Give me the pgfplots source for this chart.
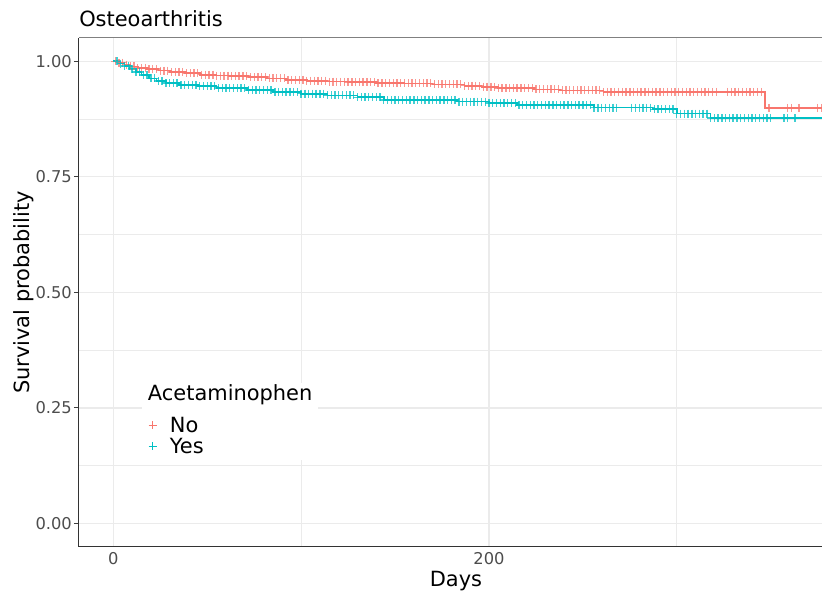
\documentclass[border=0pt]{standalone}
\usepackage{fontspec}
\setmainfont{DejaVu Sans}
\usepackage{pgfplots}
\usepackage{pgfplotstable}
\pgfplotsset{compat=1.18}
\definecolor{cno}{HTML}{F8766D}
\definecolor{cyes}{HTML}{00BFC4}
\definecolor{tickc}{HTML}{4D4D4D}
\definecolor{gridc}{HTML}{EBEBEB}

% Kaplan-Meier step curves (day, survival)
\pgfplotstableread{
t s
0 1.000
3 0.997
6 0.993
9 0.989
13 0.986
18 0.983
24 0.980
30 0.977
38 0.974
46 0.971
55 0.969
62 0.968
72 0.966
82 0.963
92 0.960
103 0.958
114 0.956
125 0.955
140 0.953
155 0.952
170 0.950
187 0.947
196 0.945
205 0.942
224 0.939
238 0.937
261 0.934
347 0.899
377.3 0.899
}\curveNo

\pgfplotstableread{
t s
0 1.000
3 0.995
6 0.990
9 0.984
12 0.977
15 0.970
19 0.963
23 0.957
28 0.953
35 0.949
45 0.946
55 0.942
71 0.938
85 0.934
100 0.930
114 0.926
130 0.922
144 0.916
183 0.913
200 0.910
215 0.905
256 0.900
287 0.896
300 0.887
318 0.877
377.3 0.877
}\curveYes

\begin{document}
\begin{tikzpicture}
\useasboundingbox (-59.25pt,-33.75pt) rectangle (557.25pt,410.25pt);
\begin{axis}[
  at={(0,0)}, anchor=south west,
  scale only axis, width=557.25pt, height=381.75pt,
  clip=false,
  xmin=-18.26, xmax=377.3, ymin=-0.0508, ymax=1.0504,
  xtick={0,200}, minor xtick={100,300},
  ytick={0,0.25,0.5,0.75,1},
  yticklabels={0.00,0.25,0.50,0.75,1.00},
  minor ytick={0.125,0.375,0.625,0.875},
  grid=both,
  major grid style={gridc, line width=0.9pt},
  minor grid style={gridc, line width=0.7pt},
  minor tick length=0pt,
  axis line style={draw=none},
  tick align=outside,
  xtick style={draw=none},
  ytick style={tickc!80!black, line width=0.7pt},
  major tick length=3.75pt,
  /pgf/number format/assume math mode=true,
  ticklabel style={font=\fontsize{12.2}{14}\selectfont, text=tickc},
  yticklabel style={anchor=east, inner sep=0pt, xshift=-1.5pt},
  xticklabel style={anchor=north, inner sep=0pt, yshift=0.25pt},
  xlabel={Days},
  ylabel={Survival probability},
  label style={font=\fontsize{15.7}{18}\selectfont},
  xlabel style={at={(axis description cs:0.5074,0)}, anchor=base, yshift=-29.5pt, inner sep=0pt},
  ylabel style={at={(axis description cs:0,0.5)}, anchor=base, yshift=36.75pt, inner sep=0pt},
  title={Osteoarthritis},
  title style={at={(axis description cs:0,1)}, anchor=base west, yshift=2.5pt, inner sep=0pt, font=\fontsize{15.7}{18}\selectfont},
  legend cell align=left,
  legend image code/.code={\draw[#1, mark options={line width=0.5pt, opacity=1}] plot coordinates {(3pt,0pt)}; \path (0pt,0pt) (15.75pt,0pt);},
  legend style={at={(axis description cs:0.0933,0.2545)}, anchor=north west,
    draw=none, fill=none, inner sep=0pt, outer sep=0pt, column sep=0pt, row sep=4.3pt,
    font=\fontsize{15.7}{18}\selectfont,
    nodes={inner sep=0pt, text height=11.45pt, text depth=0pt}},
]
\fill[white] (axis description cs:0.0844,0.1709) rectangle (axis description cs:0.3217,0.3222);

\addplot[const plot, cno, line width=1.3pt, forget plot] table[x=t,y=s] {\curveNo};
\addplot[const plot, cyes, line width=1.3pt, forget plot] table[x=t,y=s] {\curveYes};

% censoring marks, No
\addplot[only marks, mark=+, mark size=3pt, cno, mark options={line width=1pt, opacity=0.75}] coordinates {
(1,1.000)(3,0.997)(5,0.997)(7,0.993)(9,0.989)(11,0.989)(13,0.986)(15,0.986)(17,0.986)(19,0.983)(21,0.983)(23,0.983)(25,0.980)(27,0.980)(29,0.980)(31,0.977)(33,0.977)(35,0.977)(37,0.977)(39,0.974)(41,0.974)(43,0.974)(45,0.974)(47,0.971)(49,0.971)(51,0.971)(53,0.971)(55,0.969)(57,0.969)(59,0.969)(61,0.969)(63,0.968)(65,0.968)(67,0.968)(69,0.968)(71,0.968)(73,0.966)(75,0.966)(77,0.966)(79,0.966)(81,0.966)(83,0.963)(85,0.963)(87,0.963)(89,0.963)(91,0.963)(93,0.960)(95,0.960)(97,0.960)(99,0.960)(101,0.960)(103,0.958)(105,0.958)(107,0.958)(109,0.958)(111,0.958)(113,0.958)(115,0.956)(117,0.956)(119,0.956)(121,0.956)(123,0.956)(125,0.955)(127,0.955)(129,0.955)(131,0.955)(133,0.955)(135,0.955)(137,0.955)(139,0.955)(141,0.953)(143,0.953)(145,0.953)(147,0.953)(149,0.953)(151,0.953)(153,0.953)(155,0.952)(157,0.952)(159,0.952)(161,0.952)(163,0.952)(165,0.952)(167,0.952)(169,0.952)(171,0.950)(173,0.950)(175,0.950)(177,0.950)(179,0.950)(181,0.950)(183,0.950)(185,0.950)(187,0.947)(189,0.947)(191,0.947)(193,0.947)(195,0.947)(197,0.945)(199,0.945)(201,0.945)(203,0.945)(205,0.942)(207,0.942)(209,0.942)(211,0.942)(213,0.942)(215,0.942)(217,0.942)(219,0.942)(221,0.942)(223,0.942)(225,0.939)(227,0.939)(229,0.939)(231,0.939)(233,0.939)(235,0.939)(237,0.939)(239,0.937)(241,0.937)(243,0.937)(245,0.937)(247,0.937)(249,0.937)(251,0.937)(253,0.937)(255,0.937)(257,0.937)(259,0.937)(261,0.934)(263,0.934)(265,0.934)(267,0.934)(269,0.934)(271,0.934)(273,0.934)(275,0.934)(277,0.934)(279,0.934)(281,0.934)(283,0.934)(285,0.934)(287,0.934)(289,0.934)(291,0.934)(293,0.934)(295,0.934)(297,0.934)(299,0.934)(301,0.934)(303,0.934)(305,0.934)(307,0.934)(309,0.934)(311,0.934)(313,0.934)(315,0.934)(317,0.934)(319,0.934)(321,0.934)(327,0.934)(329,0.934)(331,0.934)(333,0.934)(335,0.934)(337,0.934)(339,0.934)(341,0.934)(343,0.934)(345,0.934)(349,0.899)(359,0.899)(361,0.899)(365,0.899)(375,0.899)(377,0.899)
};
\addlegendentry{No}
% censoring marks, Yes
\addplot[only marks, mark=+, mark size=3pt, cyes, mark options={line width=1pt, opacity=0.75}] coordinates {
(2,1.000)(4,0.995)(6,0.990)(8,0.990)(10,0.984)(12,0.977)(14,0.977)(16,0.970)(18,0.970)(20,0.963)(22,0.963)(24,0.957)(26,0.957)(28,0.953)(30,0.953)(32,0.953)(34,0.953)(36,0.949)(38,0.949)(40,0.949)(42,0.949)(44,0.949)(46,0.946)(48,0.946)(50,0.946)(52,0.946)(54,0.946)(56,0.942)(58,0.942)(60,0.942)(62,0.942)(64,0.942)(66,0.942)(68,0.942)(70,0.942)(72,0.938)(74,0.938)(76,0.938)(78,0.938)(80,0.938)(82,0.938)(84,0.938)(86,0.934)(88,0.934)(90,0.934)(92,0.934)(94,0.934)(96,0.934)(98,0.934)(100,0.930)(102,0.930)(104,0.930)(106,0.930)(108,0.930)(110,0.930)(112,0.930)(114,0.926)(116,0.926)(118,0.926)(120,0.926)(122,0.926)(124,0.926)(126,0.926)(128,0.926)(130,0.922)(132,0.922)(134,0.922)(136,0.922)(138,0.922)(140,0.922)(142,0.922)(144,0.916)(146,0.916)(148,0.916)(150,0.916)(152,0.916)(154,0.916)(156,0.916)(158,0.916)(160,0.916)(162,0.916)(164,0.916)(166,0.916)(168,0.916)(170,0.916)(172,0.916)(174,0.916)(176,0.916)(178,0.916)(180,0.916)(182,0.916)(184,0.913)(186,0.913)(188,0.913)(190,0.913)(192,0.913)(194,0.913)(196,0.913)(198,0.913)(200,0.910)(202,0.910)(204,0.910)(206,0.910)(208,0.910)(210,0.910)(212,0.910)(214,0.910)(216,0.905)(218,0.905)(220,0.905)(222,0.905)(224,0.905)(226,0.905)(228,0.905)(230,0.905)(232,0.905)(234,0.905)(236,0.905)(238,0.905)(240,0.905)(242,0.905)(244,0.905)(246,0.905)(248,0.905)(250,0.905)(252,0.905)(254,0.905)(256,0.900)(258,0.900)(260,0.900)(262,0.900)(264,0.900)(266,0.900)(268,0.900)(276,0.900)(278,0.900)(280,0.900)(282,0.900)(284,0.900)(286,0.900)(288,0.896)(290,0.896)(292,0.896)(294,0.896)(296,0.896)(298,0.896)(300,0.887)(302,0.887)(304,0.887)(306,0.887)(308,0.887)(310,0.887)(312,0.887)(314,0.887)(316,0.887)(318,0.877)(320,0.877)(322,0.877)(324,0.877)(326,0.877)(328,0.877)(330,0.877)(332,0.877)(334,0.877)(336,0.877)(338,0.877)(340,0.877)(342,0.877)(344,0.877)(346,0.877)(348,0.877)(350,0.877)(357,0.877)(359,0.877)(363,0.877)
};
\addlegendentry{Yes}

\draw[black!80, line width=0.75pt] (rel axis cs:0,1) -- (rel axis cs:0,0) -- (rel axis cs:1,0);
\draw[gray, line width=0.75pt] (rel axis cs:0,1) -- (rel axis cs:1,1);

\node[anchor=base west, inner sep=0pt, font=\fontsize{15.7}{18}\selectfont] at (axis description cs:0.0925,0.2874) {Acetaminophen};
\end{axis}
\end{tikzpicture}
\end{document}
